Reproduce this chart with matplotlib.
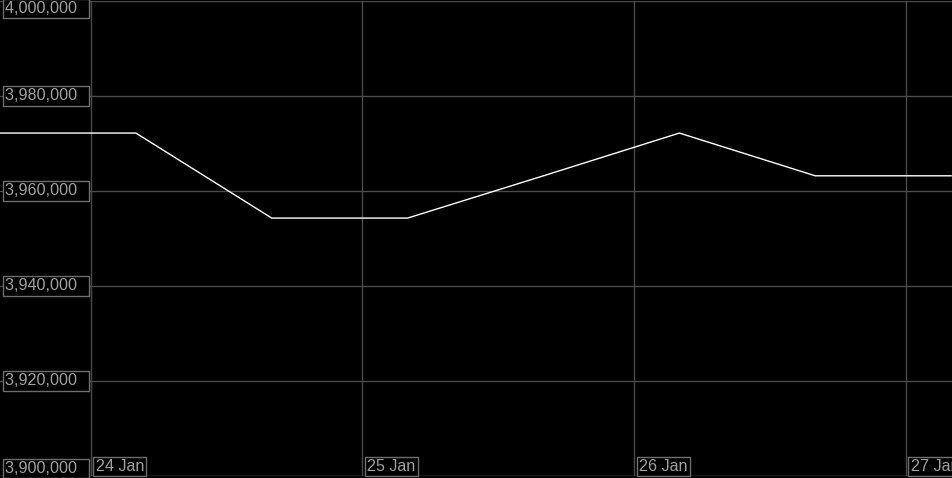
import numpy as np
import pandas as pd
import matplotlib
matplotlib.use("Agg")
import matplotlib.pyplot as plt
import matplotlib.dates as mdates
import matplotlib.transforms as mtransforms

# 数据（每12小时一个点）
times = pd.to_datetime([
    "2024-01-23 16:00", "2024-01-24 04:00", "2024-01-24 16:00", "2024-01-25 04:00",
    "2024-01-25 16:00", "2024-01-26 04:00", "2024-01-26 16:00", "2024-01-27 04:00",
])
values = [3972200, 3972200, 3954300, 3954300, 3963200, 3972200, 3963200, 3963200]

day_ticks = pd.to_datetime(["2024-01-24", "2024-01-25", "2024-01-26", "2024-01-27"])
day_labels = ["24 Jan", "25 Jan", "26 Jan", "27 Jan"]
y_ticks = [3900000, 3920000, 3940000, 3960000, 3980000, 4000000]

plt.rcParams['font.family'] = ['Liberation Sans', 'DejaVu Sans']

fig = plt.figure(figsize=(9.53, 4.78), dpi=100, facecolor='black')
ax = fig.add_axes([0, 2 / 478, 1, 475 / 478])
ax.set_facecolor('black')

# 绘制曲线
ax.plot(times, values, color='white', linewidth=1.0, zorder=3)

ax.set_xlim(pd.Timestamp("2024-01-23 16:00"), pd.Timestamp("2024-01-27 04:10"))
ax.set_ylim(3900000, 4000000)
ax.set_xticks(mdates.date2num(day_ticks))
ax.set_yticks(y_ticks)
ax.tick_params(length=0, labelbottom=False, labelleft=False)
ax.grid(True, color='#4a4a4a', linewidth=1)
for s in ax.spines.values():
    s.set_visible(False)
ax.axhline(3900000, color='#4a4a4a', linewidth=1)

box = dict(boxstyle='square,pad=0.15', facecolor='black', edgecolor='#6e6e6e', linewidth=1)
txt_color = '#a0a0a0'

# y 轴标签（画在图内）
ytrans = mtransforms.blended_transform_factory(ax.transAxes, ax.transData)
for v in y_ticks:
    if v == y_ticks[-1]:
        va = 'top'
    elif v == y_ticks[0]:
        va = 'bottom'
    else:
        va = 'center'
    ax.text(0.0055, v, f"{v:,}  ", transform=ytrans, ha='left', va=va,
            fontsize=11.6, color=txt_color, bbox=box, zorder=4)

# x 轴标签
xtrans = mtransforms.blended_transform_factory(ax.transData, ax.transAxes)
off = mtransforms.offset_copy(xtrans, fig=fig, x=5, y=2, units='dots')
for d, lab in zip(day_ticks, day_labels):
    ax.text(mdates.date2num(d), 0.0, lab, transform=off, ha='left', va='bottom',
            fontsize=11.6, color=txt_color, bbox=box, zorder=4, clip_on=False)

fig.savefig("out.png", dpi=100, facecolor='black')
